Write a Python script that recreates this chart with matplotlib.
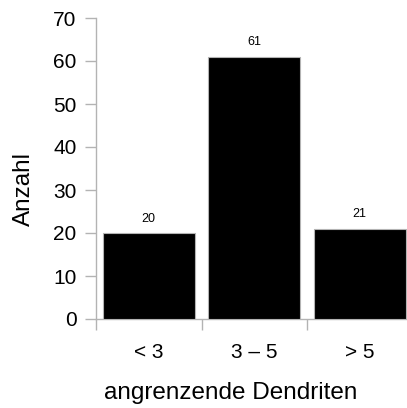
import matplotlib

matplotlib.use("Agg")
import matplotlib.pyplot as plt  # noqa: E402
import numpy as np  # noqa: E402

categories = ["< 3", "3 – 5", "> 5"]
counts = [20, 61, 21]
y_ticks = [0, 10, 20, 30, 40, 50, 60, 70]

GREY = "#b3b3b3"
plt.rcParams["font.family"] = ["Liberation Sans", "DejaVu Sans"]

fig = plt.figure(figsize=(4.07, 4.08), dpi=100)
ax = fig.add_axes([96 / 407, 89 / 408, 316.5 / 407, 301 / 408])

x = np.arange(len(categories))
ax.bar(x, counts, width=0.87, color="black", edgecolor=GREY, linewidth=0.8, zorder=3)
for xi, c in zip(x, counts):
    ax.annotate(str(c), xy=(xi, c), xytext=(0, 6), textcoords="offset points",
                ha="center", va="bottom", fontsize=9)

ax.set_xlim(-0.5, len(categories) - 0.5)
ax.set_ylim(0, 70)
ax.set_yticks(y_ticks)

# category boundaries as ticks, labels in between
ax.set_xticks(np.arange(len(categories) + 1) - 0.5)
ax.set_xticklabels([])
ax.set_xticks(x, minor=True)
ax.set_xticklabels(categories, minor=True, fontsize=15)
ax.tick_params(axis="x", which="major", length=8, width=1, color=GREY, direction="out")
ax.tick_params(axis="x", which="minor", length=0, pad=17.5)
ax.tick_params(axis="y", length=8, width=1, color=GREY, labelsize=15, pad=6)

for s in ("top", "right"):
    ax.spines[s].set_visible(False)
for s in ("left", "bottom"):
    ax.spines[s].set_color(GREY)
    ax.spines[s].set_linewidth(1)

ax.set_ylabel("Anzahl", fontsize=17.5, labelpad=13, y=0.432)
ax.set_xlabel("angrenzende Dendriten", fontsize=17.5, labelpad=14, x=0.4265)

fig.savefig("out.png", dpi=100)
